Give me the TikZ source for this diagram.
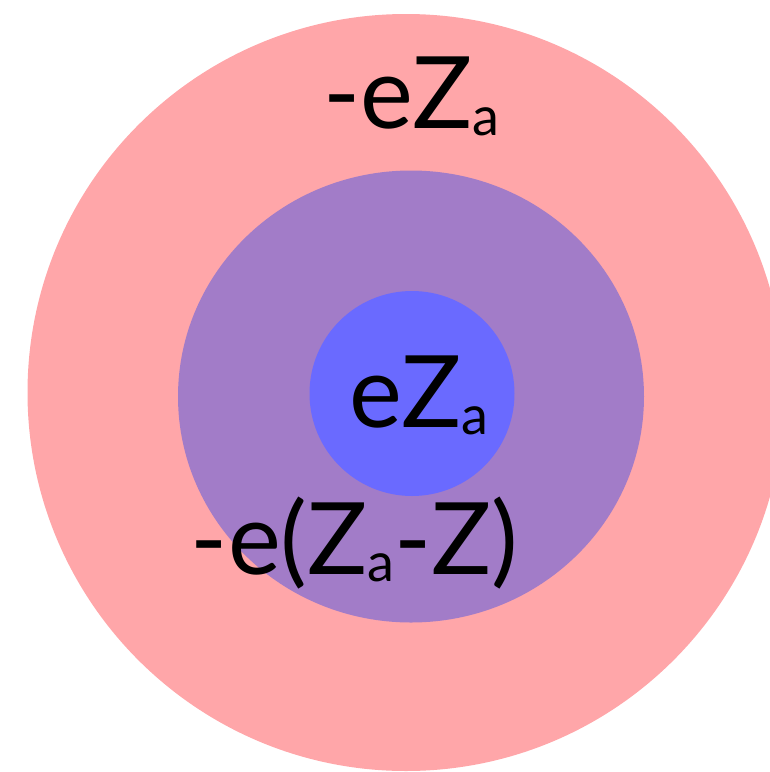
\documentclass[tikz,border=0pt]{standalone}
\usepackage{fontspec}
\setmainfont{Lato}
\definecolor{outerpink}{HTML}{FFA6A9}
\definecolor{midpurple}{HTML}{A27CC8}
\definecolor{innerblue}{HTML}{6A6AFF}
\newcommand{\bigtxt}{\fontsize{100}{104}\selectfont}
\newcommand{\subtxt}[1]{\raisebox{-7pt}{\fontsize{54}{54}\selectfont #1}}
\begin{document}
\begin{tikzpicture}[x=1pt,y=-1pt,
  lbl/.style={inner sep=0pt,anchor=base,font=\bigtxt}]
\useasboundingbox (0,0) rectangle (770,772);
\clip (0,0) rectangle (770,772);
\fill[outerpink] (406,392.5) circle (378.5);
\fill[midpurple] (411,396.5) ellipse [x radius=233, y radius=226];
\fill[innerblue] (412,393.5) circle (102.5);
\node[lbl] (outer) at (411,128) {-eZ\subtxt{a}};
\node[lbl] (inner) at (419,427) {eZ\subtxt{a}};
\node[lbl] (mid) at (354.5,574) {-e(Z\subtxt{a}-Z)};
\end{tikzpicture}
\end{document}
